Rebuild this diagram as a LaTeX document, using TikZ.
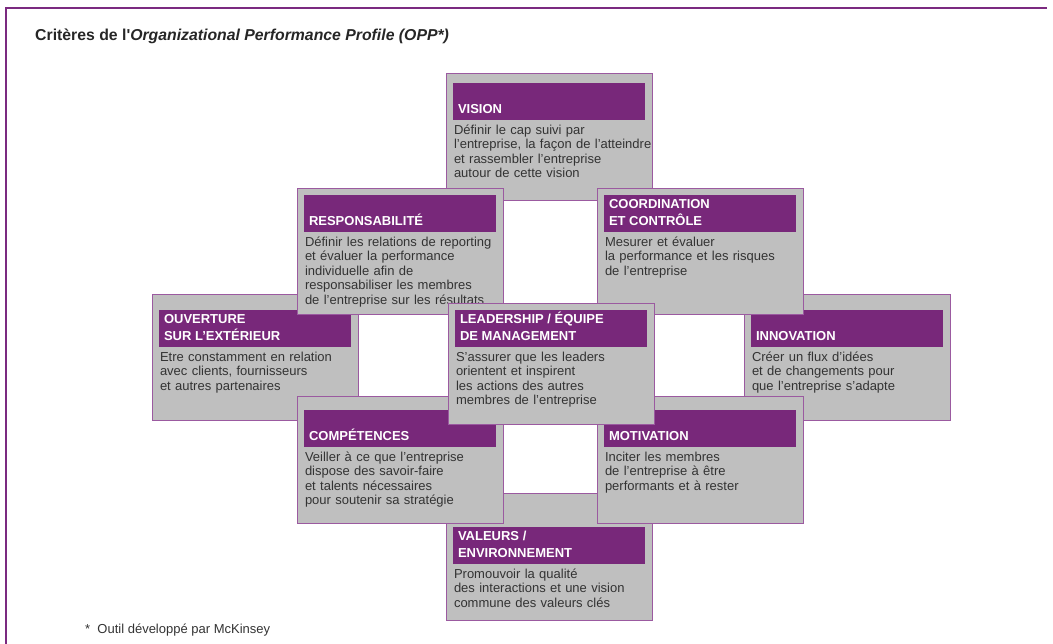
\documentclass[tikz,border=0pt]{standalone}
\usepackage{fontspec}
\setmainfont{Liberation Sans}
\newfontfamily\titlefont{Liberation Sans}
\usepackage{tikz}
\usetikzlibrary{fit}
\definecolor{mpurple}{RGB}{120, 40, 122}
\definecolor{mframe}{RGB}{123, 42, 128}
\definecolor{mlilac}{RGB}{155, 90, 160}
\definecolor{mgray}{RGB}{191, 191, 191}
\definecolor{mtext}{RGB}{51, 51, 51}
\tikzset{critbox/.style = {draw=mlilac, fill=mgray, line width=0.8pt, inner sep=0, rectangle}}
\tikzset{crithead/.style = {fill=mpurple, inner sep=0, rectangle}}
\tikzset{crittitle/.style = {text=white, font=\fontsize{13}{16.5}\selectfont\bfseries,
                             align=left, inner xsep=5pt, inner ysep=2pt}}
\tikzset{critbody/.style = {text=mtext, font=\fontsize{13}{14.5}\selectfont,
                            align=left, text width=210pt, inner xsep=1pt, inner ysep=3.85pt}}
\newcommand{\critere}[7]{%
    \node [critbox, fit={(#2, #3) (#2+206, #4)}] (#1) {};
    \node [crithead, fit={(#2+7, #5) (#2+199, #5+37)}] (#1head) {};
    \node [crittitle, anchor=south west] (#1title) at (#1head.south west) {#6\strut};
    \node [critbody, anchor=north west] (#1body) at (#1head.south west) {\strut #7};
}

\begin{document}
\begin{tikzpicture}[x=1pt, y=-1pt]
    \useasboundingbox (0, 0) rectangle (1053, 644);
    \draw [mframe, line width=2pt] (6, 644) -- (6, 8) -- (1047, 8);

    \node [anchor=base west, font=\fontsize{15.8}{18}\selectfont, text=black!85, inner sep=0] (title) at (35, 41)
        {\titlefont\bfseries Critères de l'\textit{Organizational Performance Profile (OPP*)}};

    \critere{vision}{446}{73}{200}{83}{VISION}
        {Définir le cap suivi par\\l’entreprise, la façon de l’atteindre\\et rassembler l’entreprise\\autour de cette vision}
    \critere{ouverture}{152}{294}{420}{310}{OUVERTURE\\SUR L’EXTÉRIEUR}
        {Etre constamment en relation\\avec clients, fournisseurs\\et autres partenaires}
    \critere{innovation}{744}{294}{420}{310}{INNOVATION}
        {Créer un flux d’idées\\et de changements pour\\que l’entreprise s’adapte}
    \critere{valeurs}{446}{493}{620}{527}{VALEURS /\\ENVIRONNEMENT}
        {Promouvoir la qualité\\des interactions et une vision\\commune des valeurs clés}

    \critere{responsabilite}{297}{188}{314}{195}{RESPONSABILITÉ}
        {Définir les relations de reporting\\et évaluer la performance\\individuelle afin de\\responsabiliser les membres\\de l’entreprise sur les résultats}
    \critere{coordination}{597}{188}{314}{195}{COORDINATION\\ET CONTRÔLE}
        {Mesurer et évaluer\\la performance et les risques\\de l’entreprise}
    \critere{competences}{297}{396}{523}{410}{COMPÉTENCES}
        {Veiller à ce que l’entreprise\\dispose des savoir-faire\\et talents nécessaires\\pour soutenir sa stratégie}
    \critere{motivation}{597}{396}{523}{410}{MOTIVATION}
        {Inciter les membres\\de l’entreprise à être\\performants et à rester}

    \critere{leadership}{448}{303}{424}{310}{LEADERSHIP / ÉQUIPE\\DE MANAGEMENT}
        {S’assurer que les leaders\\orientent et inspirent\\les actions des autres\\membres de l’entreprise}

    \node [anchor=base west, font=\fontsize{13}{15}\selectfont, text=mtext, inner sep=0] (footnote) at (85, 633)
        {*~~Outil développé par McKinsey};
\end{tikzpicture}
\end{document}
